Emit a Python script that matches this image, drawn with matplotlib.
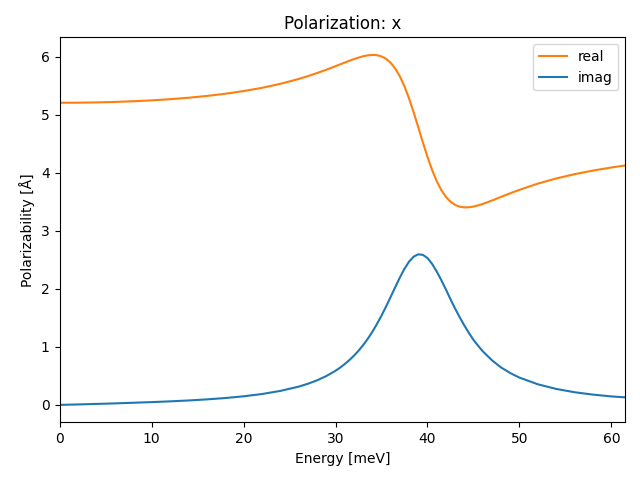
import matplotlib
matplotlib.use("Agg")
import matplotlib.pyplot as plt

energy = [0, 2, 4, 6, 8, 10, 12, 14, 16, 18, 20, 22, 24, 26, 27, 28, 29, 30, 30.5,
          31, 31.5, 32, 32.5, 33, 33.5, 34, 34.5, 35, 35.5, 36, 36.5, 37, 37.5, 38,
          38.5, 39, 39.5, 40, 40.5, 41, 41.5, 42, 42.5, 43, 43.5, 44, 44.5, 45, 45.5,
          46, 47, 48, 49, 50, 52, 54, 56, 58, 60, 61.5]

real = [5.206, 5.207, 5.212, 5.220, 5.232, 5.247, 5.267, 5.292, 5.323, 5.361, 5.407,
        5.463, 5.532, 5.616, 5.665, 5.718, 5.775, 5.836, 5.867, 5.898, 5.929, 5.958,
        5.984, 6.007, 6.023, 6.030, 6.026, 6.005, 5.963, 5.895, 5.795, 5.660, 5.487,
        5.278, 5.039, 4.783, 4.522, 4.273, 4.048, 3.856, 3.702, 3.584, 3.501, 3.446,
        3.415, 3.403, 3.405, 3.418, 3.438, 3.462, 3.521, 3.584, 3.647, 3.706, 3.813,
        3.902, 3.976, 4.038, 4.091, 4.126]

imag = [0.000, 0.008, 0.017, 0.026, 0.037, 0.048, 0.061, 0.076, 0.095, 0.118, 0.148,
        0.187, 0.241, 0.315, 0.364, 0.424, 0.497, 0.588, 0.642, 0.703, 0.771, 0.847,
        0.933, 1.029, 1.137, 1.258, 1.392, 1.538, 1.696, 1.862, 2.031, 2.196, 2.345,
        2.470, 2.555, 2.595, 2.585, 2.530, 2.430, 2.300, 2.150, 1.990, 1.820, 1.660,
        1.510, 1.370, 1.240, 1.120, 1.020, 0.925, 0.770, 0.645, 0.548, 0.470, 0.355,
        0.275, 0.218, 0.177, 0.146, 0.130]

fig, ax = plt.subplots(figsize=(6.4, 4.8), dpi=100)
fig.subplots_adjust(left=0.093, right=0.977, top=0.922, bottom=0.12)
ax.plot(energy, real, color="C1", label="real")
ax.plot(energy, imag, color="C0", label="imag")
ax.set_xlim(energy[0], energy[-1])
ax.set_title("Polarization: x")
ax.set_xlabel("Energy [meV]")
ax.set_ylabel("Polarizability [Å]")
ax.legend(loc="upper right")
fig.savefig("out.png")
